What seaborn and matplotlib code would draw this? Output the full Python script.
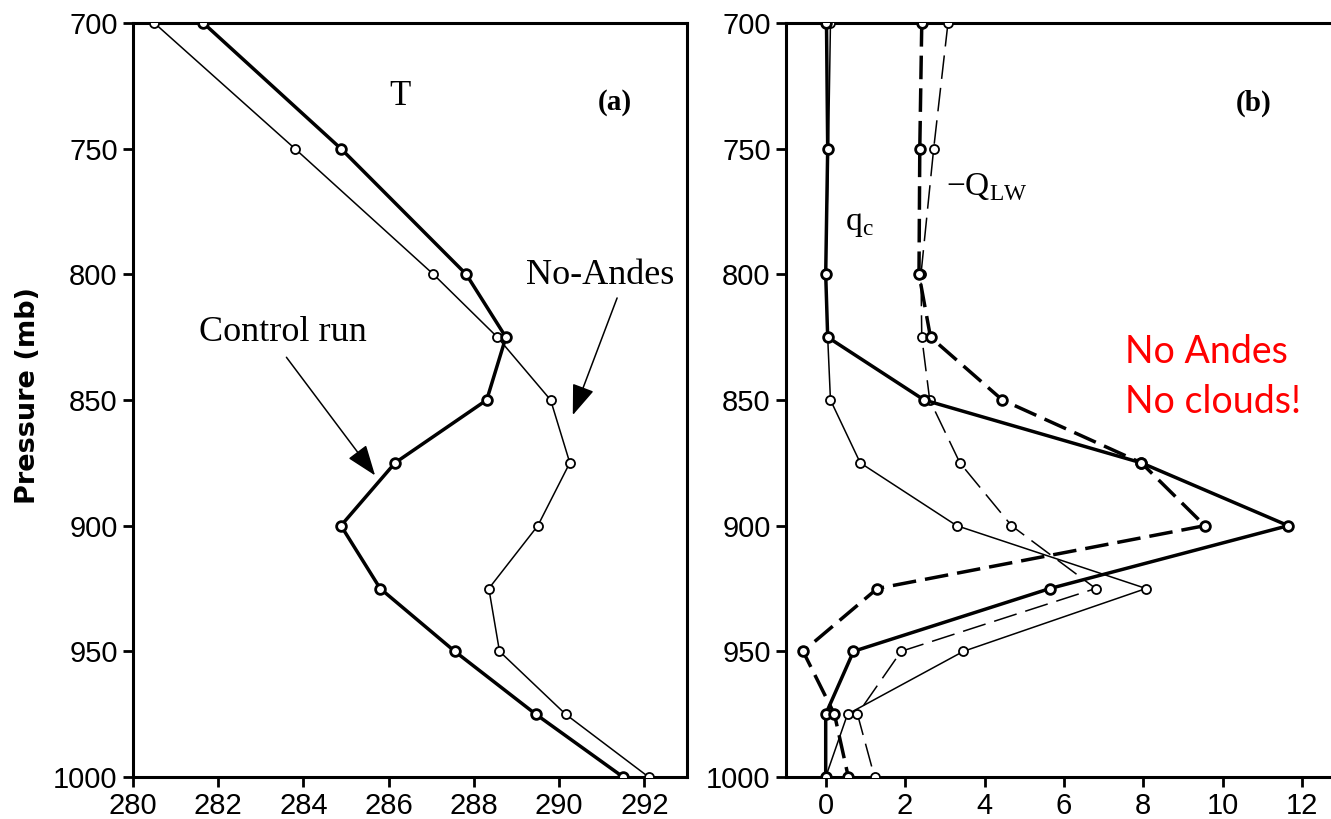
import matplotlib
matplotlib.use("Agg")
import matplotlib.pyplot as plt
import seaborn as sns
import pandas as pd
from matplotlib import font_manager

# ---------------- data ----------------
pressure = [700, 750, 800, 825, 850, 875, 900, 925, 950, 975, 1000]
T_control = [281.65, 284.88, 287.82, 288.75, 288.3, 286.15, 284.88, 285.8, 287.55, 289.45, 291.5]
T_noandes = [280.5, 283.8, 287.05, 288.55, 289.8, 290.25, 289.5, 288.35, 288.6, 290.15, 292.1]

qc_control = [0.02, 0.05, 0.0, 0.05, 2.48, 7.95, 11.65, 5.65, 0.7, 0.0, 0.0]
qc_noandes = [0.12, 0.07, 0.0, 0.05, 0.12, 0.87, 3.3, 8.07, 3.47, 0.55, 0.0]
qlw_control = [2.42, 2.37, 2.35, 2.64, 4.45, 7.95, 9.55, 1.3, -0.57, 0.22, 0.57]
qlw_noandes = [3.08, 2.72, 2.4, 2.42, 2.62, 3.38, 4.68, 6.8, 1.9, 0.8, 1.23]

yticks = [700, 750, 800, 850, 900, 950, 1000]
xticks_a = [280, 282, 284, 286, 288, 290, 292]
xticks_b = [0, 2, 4, 6, 8, 10, 12]

# ---------------- style ----------------
sns.set_theme(style="white")
plt.rcParams["font.family"] = ["DejaVu Sans"]
plt.rcParams["text.color"] = "black"
plt.rcParams["mathtext.fontset"] = "custom"
plt.rcParams["mathtext.rm"] = "Liberation Serif"
plt.rcParams["lines.scale_dashes"] = False

names = {f.name for f in font_manager.fontManager.ttflist}
tick_family = ["Liberation Sans Narrow"] if "Liberation Sans Narrow" in names else ["Liberation Sans"]
tick_size = 23 if "Liberation Sans Narrow" in names else 21
serif = ["Liberation Serif"]

W, H = 1331, 819
fig = plt.figure(figsize=(W / 100, H / 100), dpi=100)
fig.patch.set_facecolor("white")

ax1 = fig.add_axes([133 / W, 42 / H, (687 - 133) / W, (777 - 23) / H])
ax2 = fig.add_axes([786 / W, 42 / H, 14 * 39.7 / W, (777 - 23) / H])

thick = 2.5
thin = 1.1

def prof(ax, x, lw, ms, mew, ls="-"):
    df = pd.DataFrame({"x": x, "p": pressure})
    sns.lineplot(data=df, x="x", y="p", sort=False, estimator=None, ax=ax,
                 color="black", linewidth=lw, linestyle=ls, marker="o",
                 markersize=ms, markerfacecolor="white", markeredgecolor="black",
                 markeredgewidth=mew, zorder=3)

# panel (a)
prof(ax1, T_noandes, thin, 6.5, 1.3)
prof(ax1, T_control, thick, 7, 2.0)

# panel (b)
dash = (0, (17, 6.5))
prof(ax2, qc_noandes, thin, 6.5, 1.3)
prof(ax2, qlw_noandes, thin, 6.5, 1.3, ls=dash)
prof(ax2, qc_control, thick, 7, 2.0)
prof(ax2, qlw_control, thick, 7, 2.0, ls=dash)

for ax in (ax1, ax2):
    ax.set_ylim(1000, 700)
    ax.set_yticks(yticks)
    ax.set_ylabel("")
    ax.set_xlabel("")
    ax.grid(False)
    for s in ax.spines.values():
        s.set_color("black")
        s.set_linewidth(2.2)
    ax.tick_params(axis="both", direction="out", length=7, width=2, color="black",
                   labelsize=tick_size, labelcolor="black", pad=4,
                   left=True, bottom=True, top=False, right=False)

ax1.set_xlim(280, 293)
ax1.set_xticks(xticks_a)
ax1.set_xticklabels([str(v) for v in xticks_a], family=tick_family, size=tick_size)
ax1.set_yticklabels([str(v) for v in yticks], family=tick_family, size=tick_size)

ax2.set_xlim(-1, 13)
ax2.set_xticks(xticks_b)
ax2.set_xticklabels([str(v) for v in xticks_b], family=tick_family, size=tick_size)
ax2.set_yticklabels([str(v) for v in yticks], family=tick_family, size=tick_size)

fig.text(28 / W, 1 - 395 / H, "Pressure (mb)", rotation=90, ha="center", va="center",
         fontsize=19.5, fontweight="bold", family="DejaVu Sans", color="black")

# annotations panel (a)
ax1.text(286.27, 729.4, "T", family=serif, fontsize=25, ha="center", va="center", color="black")
ax1.text(291.3, 731.8, "(a)", family=serif, fontsize=21, fontweight="bold", ha="center",
         va="center", color="black")
ax1.text(290.96, 800.5, "No-Andes", family=serif, fontsize=26, ha="center", va="center", color="black")
ax1.text(283.52, 823, "Control run", family=serif, fontsize=26, ha="center", va="center", color="black")
arrow = dict(arrowstyle="-|>,head_length=1.9,head_width=0.7", mutation_scale=10,
             color="black", lw=1.1, shrinkA=0, shrinkB=0)
ax1.annotate("", xy=(285.68, 880), xytext=(283.6, 833), arrowprops=arrow)
ax1.annotate("", xy=(290.32, 856), xytext=(291.36, 809.4), arrowprops=arrow)

# annotations panel (b)
ax2.text(0.84, 780, r"q$_\mathregular{c}$", family=serif, fontsize=24, ha="center", va="center",
         color="black")
ax2.text(3.03, 765, r"$-$Q$_{\mathregular{LW}}$", family=serif, fontsize=24, ha="left", va="center",
         color="black")
ax2.text(10.77, 731.8, "(b)", family=serif, fontsize=21, fontweight="bold", ha="center",
         va="center", color="black")
ax2.text(7.53, 830.9, "No Andes", family=["Lato", "DejaVu Sans"], fontsize=27, color="red",
         ha="left", va="center")
ax2.text(7.53, 850.8, "No clouds!", family=["Lato", "DejaVu Sans"], fontsize=27, color="red",
         ha="left", va="center")

fig.savefig("out.png", dpi=100, facecolor="white")
